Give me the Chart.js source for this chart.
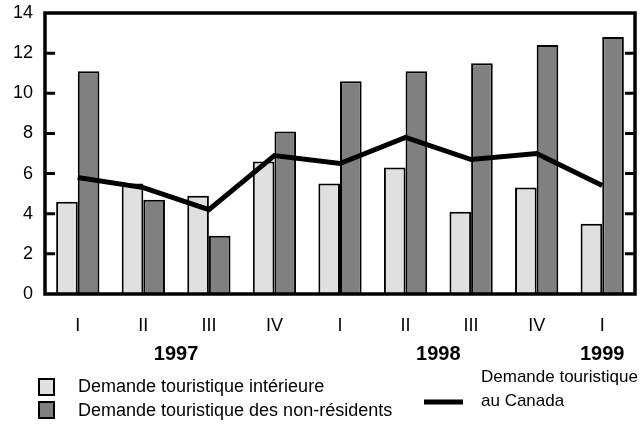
<!DOCTYPE html>
<html>
<head>
<meta charset="utf-8">
<script src="https://cdn.jsdelivr.net/npm/chart.js@4"></script>
<style>
  body { margin: 0; background: #fff; }
  #wrap { width: 641px; height: 434px; }
</style>
</head>
<body>
<div id="wrap"><canvas id="myChart" width="641" height="434"></canvas></div>
<script>
// donnees
let quarters = ["I", "II", "III", "IV", "I", "II", "III", "IV", "I"];
let years = ["1997", "1998", "1999"];
let yearAt = [1.5, 5.5, 8]; // position en index de categorie
let interieure = [4.6, 5.5, 4.9, 6.6, 5.5, 6.3, 4.1, 5.3, 3.5];
let nonResidents = [11.1, 4.7, 2.9, 8.1, 10.6, 11.1, 11.5, 12.4, 12.8];
let auCanada = [5.8, 5.3, 4.2, 6.9, 6.5, 7.8, 6.7, 7.0, 5.4];
let yTicks = [0, 2, 4, 6, 8, 10, 12, 14];

const FONT = "'Liberation Sans', Arial, sans-serif";

// cadre, petites graduations vers l'interieur, annees et legende
const decor = {
  id: "decor",
  afterDraw(chart) {
    const ctx = chart.ctx;
    const a = chart.chartArea;
    const y = chart.scales.y;
    const x = chart.scales.x;
    ctx.save();
    ctx.strokeStyle = "#000";
    ctx.lineWidth = 3;
    ctx.beginPath();
    yTicks.forEach((v) => {
      if (v == 0 || v == 14) return;
      const py = y.getPixelForValue(v);
      ctx.moveTo(a.left, py);
      ctx.lineTo(a.left + 10, py);
      ctx.moveTo(a.right, py);
      ctx.lineTo(a.right - 10, py);
    });
    ctx.stroke();
    ctx.lineWidth = 3.5;
    ctx.strokeRect(a.left, a.top, a.right - a.left, a.bottom - a.top);

    // annees
    ctx.fillStyle = "#000";
    ctx.font = "bold 20px " + FONT;
    ctx.textAlign = "center";
    ctx.textBaseline = "middle";
    years.forEach((yr, i) => {
      const p = yearAt[i];
      const lo = Math.floor(p), hi = Math.ceil(p);
      const px = (x.getPixelForValue(lo) + x.getPixelForValue(hi)) / 2;
      ctx.fillText(yr, px, a.bottom + 60);
    });

    // legende
    ctx.font = "18px " + FONT;
    ctx.textAlign = "left";
    ctx.lineWidth = 2;
    ctx.fillStyle = "#e0e0e0";
    ctx.fillRect(39, 379, 15, 16);
    ctx.strokeRect(39, 379, 15, 16);
    ctx.fillStyle = "#808080";
    ctx.fillRect(39, 402, 15, 16);
    ctx.strokeRect(39, 402, 15, 16);
    ctx.fillStyle = "#000";
    ctx.fillText("Demande touristique intérieure", 78, 387);
    ctx.fillText("Demande touristique des non-résidents", 78, 411);
    ctx.lineWidth = 5;
    ctx.beginPath();
    ctx.moveTo(424, 402);
    ctx.lineTo(463, 402);
    ctx.stroke();
    ctx.font = "17px " + FONT;
    ctx.fillText("Demande touristique", 481, 377);
    ctx.fillText("au Canada", 481, 401);
    ctx.restore();
  },
};

const ctx = document.getElementById("myChart").getContext("2d");
const myChart = new Chart(ctx, {
  type: "bar",
  data: {
    labels: quarters,
    datasets: [
      {
        type: "line",
        label: "Demande touristique au Canada",
        data: auCanada,
        borderColor: "#000",
        borderWidth: 5,
        pointRadius: 0,
        tension: 0,
        fill: false,
        order: 0,
      },
      {
        label: "Demande touristique intérieure",
        data: interieure,
        backgroundColor: "#e0e0e0",
        borderColor: "#000",
        borderWidth: 2,
        order: 1,
      },
      {
        label: "Demande touristique des non-résidents",
        data: nonResidents,
        backgroundColor: "#808080",
        borderColor: "#000",
        borderWidth: 2,
        order: 1,
      },
    ],
  },
  options: {
    responsive: false,
    maintainAspectRatio: false,
    animation: false,
    layout: { padding: { top: 13, right: 6, left: 0, bottom: 0 } },
    plugins: { legend: { display: false }, tooltip: { enabled: false } },
    datasets: { bar: { categoryPercentage: 0.66, barPercentage: 1 } },
    scales: {
      x: {
        grid: { display: false, drawTicks: false },
        border: { display: false },
        ticks: { color: "#000", font: { family: FONT, size: 18 }, padding: 21, maxRotation: 0 },
        afterFit: (s) => {
          s.height = 140;
          s.paddingLeft = 0;
          s.paddingRight = 0;
        },
      },
      y: {
        min: 0,
        max: 14,
        afterBuildTicks: (s) => { s.ticks = yTicks.map((v) => ({ value: v })); },
        grid: { display: false, drawTicks: false },
        border: { display: false },
        ticks: { color: "#000", font: { family: FONT, size: 18 }, padding: 12 },
        afterFit: (s) => {
          s.width = 45;
          s.paddingTop = 0;
          s.paddingBottom = 0;
        },
      },
    },
  },
  plugins: [decor],
});
</script>
</body>
</html>
